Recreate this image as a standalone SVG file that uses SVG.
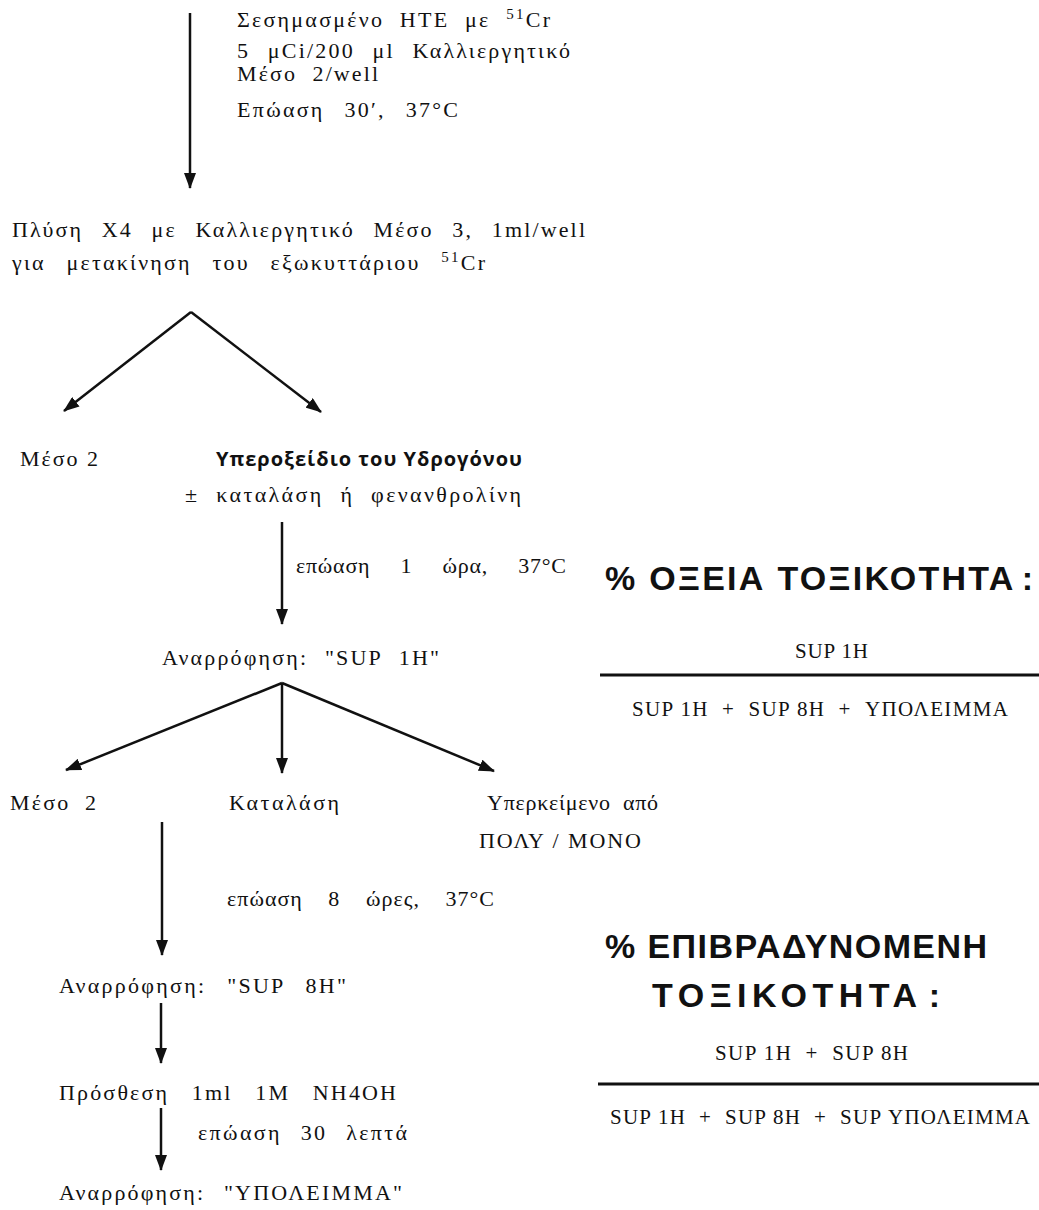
<svg xmlns="http://www.w3.org/2000/svg" width="1039" height="1210" viewBox="0 0 1039 1210">
<style>
text { white-space: pre; fill: #111; }
.s { font-family: "Liberation Serif", "Times New Roman", serif; font-size: 22px; letter-spacing: 2px; }
.f { font-family: "Liberation Serif", "Times New Roman", serif; font-size: 21px; }
.h { font-family: "Liberation Sans", Arial, sans-serif; font-size: 34px; font-weight: bold; }
.b { font-family: "Open Sans", "Liberation Sans", sans-serif; font-size: 20px; font-weight: bold; }
.c { stroke: #111; stroke-width: 2.5; fill: none; marker-end: url(#ah); }
.rule { stroke: #111; stroke-width: 3; }
</style>
<defs>
<marker id="ah" markerUnits="userSpaceOnUse" viewBox="0 0 16 12" markerWidth="16" markerHeight="12" refX="15" refY="6" orient="auto">
<path d="M0,0 L16,6 L0,12 z" fill="#111"/>
</marker>
</defs>
<g id="connectors">
<line class="c" x1="190" y1="13" x2="190" y2="188"/>
<line class="c" x1="191" y1="312" x2="64" y2="411"/>
<line class="c" x1="191" y1="312" x2="321" y2="412"/>
<line class="c" x1="282" y1="522" x2="282" y2="624"/>
<line class="c" x1="282" y1="683" x2="66" y2="770"/>
<line class="c" x1="282" y1="683" x2="282" y2="773"/>
<line class="c" x1="282" y1="683" x2="494" y2="771"/>
<line class="c" x1="162" y1="822" x2="162" y2="955"/>
<line class="c" x1="161" y1="1003" x2="161" y2="1063"/>
<line class="c" x1="161" y1="1108" x2="161" y2="1170"/>
</g>
<g id="n-labelled">
<text class="s" x="237" y="27" style="word-spacing:8px" textLength="315" lengthAdjust="spacing">Σεσημασμένο HTE με <tspan font-size="15" dy="-8">51</tspan><tspan dy="8">Cr</tspan></text>
<text class="s" x="237" y="58" style="word-spacing:10px" textLength="335" lengthAdjust="spacing">5 μCi/200 μl Καλλιεργητικό</text>
<text class="s" x="237" y="81" style="word-spacing:8px" textLength="143" lengthAdjust="spacing">Μέσο 2/well</text>
<text class="s" x="237" y="117" style="word-spacing:12px" textLength="223" lengthAdjust="spacing">Επώαση 30′, 37°C</text>
</g>
<g id="n-wash">
<text class="s" x="12" y="237" style="word-spacing:11px" textLength="575" lengthAdjust="spacing">Πλύση X4 με Καλλιεργητικό Μέσο 3, 1ml/well</text>
<text class="s" x="12" y="270" style="word-spacing:13px" textLength="475" lengthAdjust="spacing">για μετακίνηση του εξωκυττάριου <tspan font-size="15" dy="-8">51</tspan><tspan dy="8">Cr</tspan></text>
</g>
<g id="n-meso2a">
<text class="s" x="20" y="466" textLength="80" lengthAdjust="spacing">Μέσο 2</text>
</g>
<g id="n-h2o2">
<text class="b" x="216" y="466" textLength="306" lengthAdjust="spacing">Υπεροξείδιο του Υδρογόνου</text>
<text class="s" x="185" y="502" style="word-spacing:9px" textLength="338" lengthAdjust="spacing">± καταλάση ή φενανθρολίνη</text>
</g>
<g id="l-1h">
<text class="s" x="296" y="573" style="word-spacing:24px" textLength="272" lengthAdjust="spacing">επώαση 1 ώρα, 37°C</text>
</g>
<g id="n-sup1h">
<text class="s" x="162" y="665" style="word-spacing:9px" textLength="279" lengthAdjust="spacing">Αναρρόφηση: "SUP 1H"</text>
</g>
<g id="n-meso2b">
<text class="s" x="10" y="810" style="word-spacing:7px" textLength="88" lengthAdjust="spacing">Μέσο 2</text>
</g>
<g id="n-catalase">
<text class="s" x="229" y="810" textLength="112" lengthAdjust="spacing">Καταλάση</text>
</g>
<g id="n-super">
<text class="s" x="487" y="810" style="word-spacing:6px" textLength="173" lengthAdjust="spacing">Υπερκείμενο από</text>
<text class="s" x="479" y="848" textLength="164" lengthAdjust="spacing">ΠΟΛΥ / ΜΟΝΟ</text>
</g>
<g id="l-8h">
<text class="s" x="227" y="906" style="word-spacing:19px" textLength="269" lengthAdjust="spacing">επώαση 8 ώρες, 37°C</text>
</g>
<g id="n-sup8h">
<text class="s" x="59" y="993" style="word-spacing:13px" textLength="289" lengthAdjust="spacing">Αναρρόφηση: "SUP 8H"</text>
</g>
<g id="n-nh4oh">
<text class="s" x="59" y="1100" style="word-spacing:15px" textLength="339" lengthAdjust="spacing">Πρόσθεση 1ml 1M NH4OH</text>
</g>
<g id="l-30">
<text class="s" x="198" y="1140" style="word-spacing:11px" textLength="211" lengthAdjust="spacing">επώαση 30 λεπτά</text>
</g>
<g id="n-residue">
<text class="s" x="59" y="1200" style="word-spacing:11px" textLength="345" lengthAdjust="spacing">Αναρρόφηση: "ΥΠΟΛΕΙΜΜΑ"</text>
</g>
<g id="n-acute">
<text class="h" x="605" y="590" textLength="428" lengthAdjust="spacing">% ΟΞΕΙΑ ΤΟΞΙΚΟΤΗΤΑ<tspan dx="6">:</tspan></text>
<text class="f" x="795" y="658" textLength="73" lengthAdjust="spacing">SUP 1H</text>
<line class="rule" x1="600" y1="675" x2="1039" y2="675"/>
<text class="f" x="632" y="716" textLength="376" lengthAdjust="spacing">SUP 1H  +  SUP 8H  +  ΥΠΟΛΕΙΜΜΑ</text>
</g>
<g id="n-delayed">
<text class="h" x="605" y="958" textLength="382" lengthAdjust="spacing">% ΕΠΙΒΡΑΔΥΝΟΜΕΝΗ</text>
<text class="h" x="652" y="1007" textLength="288" lengthAdjust="spacing">ΤΟΞΙΚΟΤΗΤΑ<tspan dx="6">:</tspan></text>
<text class="f" x="715" y="1060" textLength="193" lengthAdjust="spacing">SUP 1H  +  SUP 8H</text>
<line class="rule" x1="598" y1="1084" x2="1039" y2="1084"/>
<text class="f" x="610" y="1124" textLength="420" lengthAdjust="spacing">SUP 1H  +  SUP 8H  +  SUP ΥΠΟΛΕΙΜΜΑ</text>
</g>
</svg>
